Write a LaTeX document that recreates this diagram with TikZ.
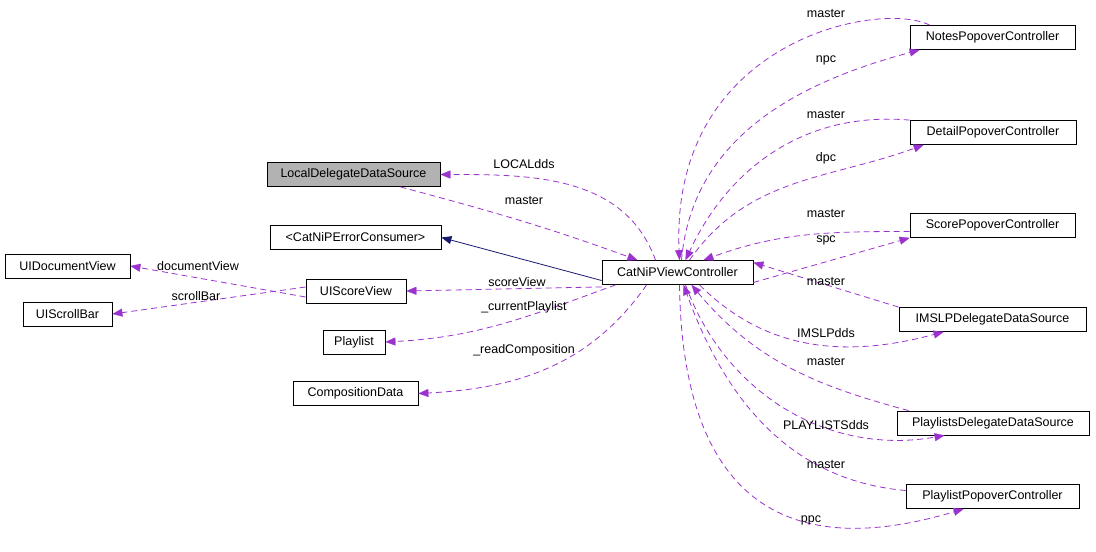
\documentclass[tikz,border=0pt]{standalone}
\usepackage{fontspec}
\setmainfont{Liberation Sans}
\usetikzlibrary{arrows.meta}
\definecolor{dp}{HTML}{9A32CD}
\definecolor{nv}{HTML}{191970}
\begin{document}
\begin{tikzpicture}[x=1pt,y=-1pt,font=\fontsize{12.5}{14}\selectfont,
 box/.style={draw,thick,minimum height=24pt,inner xsep=3pt,anchor=center},
 dep/.style={draw=dp,dash pattern=on 6pt off 4pt,thick,-{Triangle[length=10pt,width=8pt,fill=dp,line width=0.2pt,sep=0pt]}}]
\useasboundingbox (0,0) rectangle (1096,552);
\node[box,fill=black!30,minimum width=173pt] (lds) at (353.5,174.5) {LocalDelegateDataSource};
\node[box,minimum width=171pt] (err) at (355.5,237.5) {<CatNiPErrorConsumer>};
\node[box,minimum width=125pt] (udv) at (67.5,266) {UIDocumentView};
\node[box,minimum width=89pt] (usb) at (67.5,314) {UIScrollBar};
\node[box,minimum width=100pt] (usv) at (356,291) {UIScoreView};
\node[box,minimum width=62pt] (pl) at (354,342) {Playlist};
\node[box,minimum width=125pt] (cd) at (355.5,393.5) {CompositionData};
\node[box,minimum width=151pt] (c) at (677.5,272.5) {CatNiPViewController};
\node[box,minimum width=165pt] (np) at (992.5,37.5) {NotesPopoverController};
\node[box,minimum width=166pt] (dp) at (993,132.5) {DetailPopoverController};
\node[box,minimum width=165pt] (sp) at (992.5,225.5) {ScorePopoverController};
\node[box,minimum width=187pt] (im) at (992.5,319.5) {IMSLPDelegateDataSource};
\node[box,minimum width=192pt] (pd) at (993,423) {PlaylistsDelegateDataSource};
\node[box,minimum width=173pt] (pp) at (992.5,496.5) {PlaylistPopoverController};

\draw[dep] ([xshift=-22pt]c.north) to[out=110,in=0] (lds.east);
\node at (524,164) {LOCALdds};
\draw[dep] ([xshift=-40pt]lds.south east) to[out=-15,in=160] ([xshift=-40pt]c.north);
\node at (524,201) {master};
\draw[draw=nv,thick,-{Triangle[length=10pt,width=8pt,fill=nv]}] ([yshift=-8pt]c.west) -- (err.east);
\draw[dep] ([yshift=-6pt]usv.west) -- (udv.east);
\node at (198,266) {documentView};
\draw[dep] ([yshift=4pt]usv.west) -- (usb.east);
\node at (196,296) {scrollBar};
\draw[dep] ([yshift=-2pt]c.south west) -- (usv.east);
\node at (517,282) {scoreView};
\draw[dep] ([xshift=14pt]c.south west) to[out=-160,in=3] (pl.east);
\node at (524,307) {\_currentPlaylist};
\draw[dep] ([xshift=45pt]c.south west) to[out=-125,in=3] (cd.east);
\node at (524,350) {\_readComposition};

\draw[dep] ([xshift=20pt]np.north west) .. controls (880,0) and (670,40) .. ([xshift=2pt]c.north);
\node at (826,14) {master};
\draw[dep] ([xshift=4pt]c.north) to[out=85,in=195] ([xshift=10pt]np.south west);
\node at (826,60) {npc};
\draw[dep] (dp.north west) to[out=175,in=65] ([xshift=8pt]c.north);
\node at (826,115) {master};
\draw[dep] ([xshift=12pt]c.north) to[out=55,in=200] ([xshift=14pt]dp.south west);
\node at (826,158) {dpc};
\draw[dep] ([yshift=-6pt]sp.west) to[out=180,in=20] ([xshift=26pt]c.north);
\node at (826,214) {master};
\draw[dep] ([yshift=-10pt]c.east) -- (sp.south west);
\node at (826,240) {spc};
\draw[dep] (im.north west) -- ([yshift=10pt]c.east);
\node at (826,282) {master};
\draw[dep] ([xshift=22pt]c.south) to[out=-45,in=195] ([xshift=45pt]im.south west);
\node at (826,333) {IMSLPdds};
\draw[dep] ([xshift=12pt]pd.north west) to[out=165,in=-50] ([xshift=14pt]c.south);
\node at (826,362) {master};
\draw[dep] ([xshift=8pt]c.south) to[out=-70,in=190] ([xshift=48pt]pd.south west);
\node at (826,425) {PLAYLISTSdds};
\draw[dep] ([yshift=6pt]pp.west) to[out=175,in=-70] ([xshift=6pt]c.south);
\node at (826,465) {master};
\draw[dep] ([xshift=2pt]c.south) .. controls (682,470) and (760,570) .. ([xshift=58pt]pp.south west);
\node at (811,520) {ppc};
\end{tikzpicture}
\end{document}
